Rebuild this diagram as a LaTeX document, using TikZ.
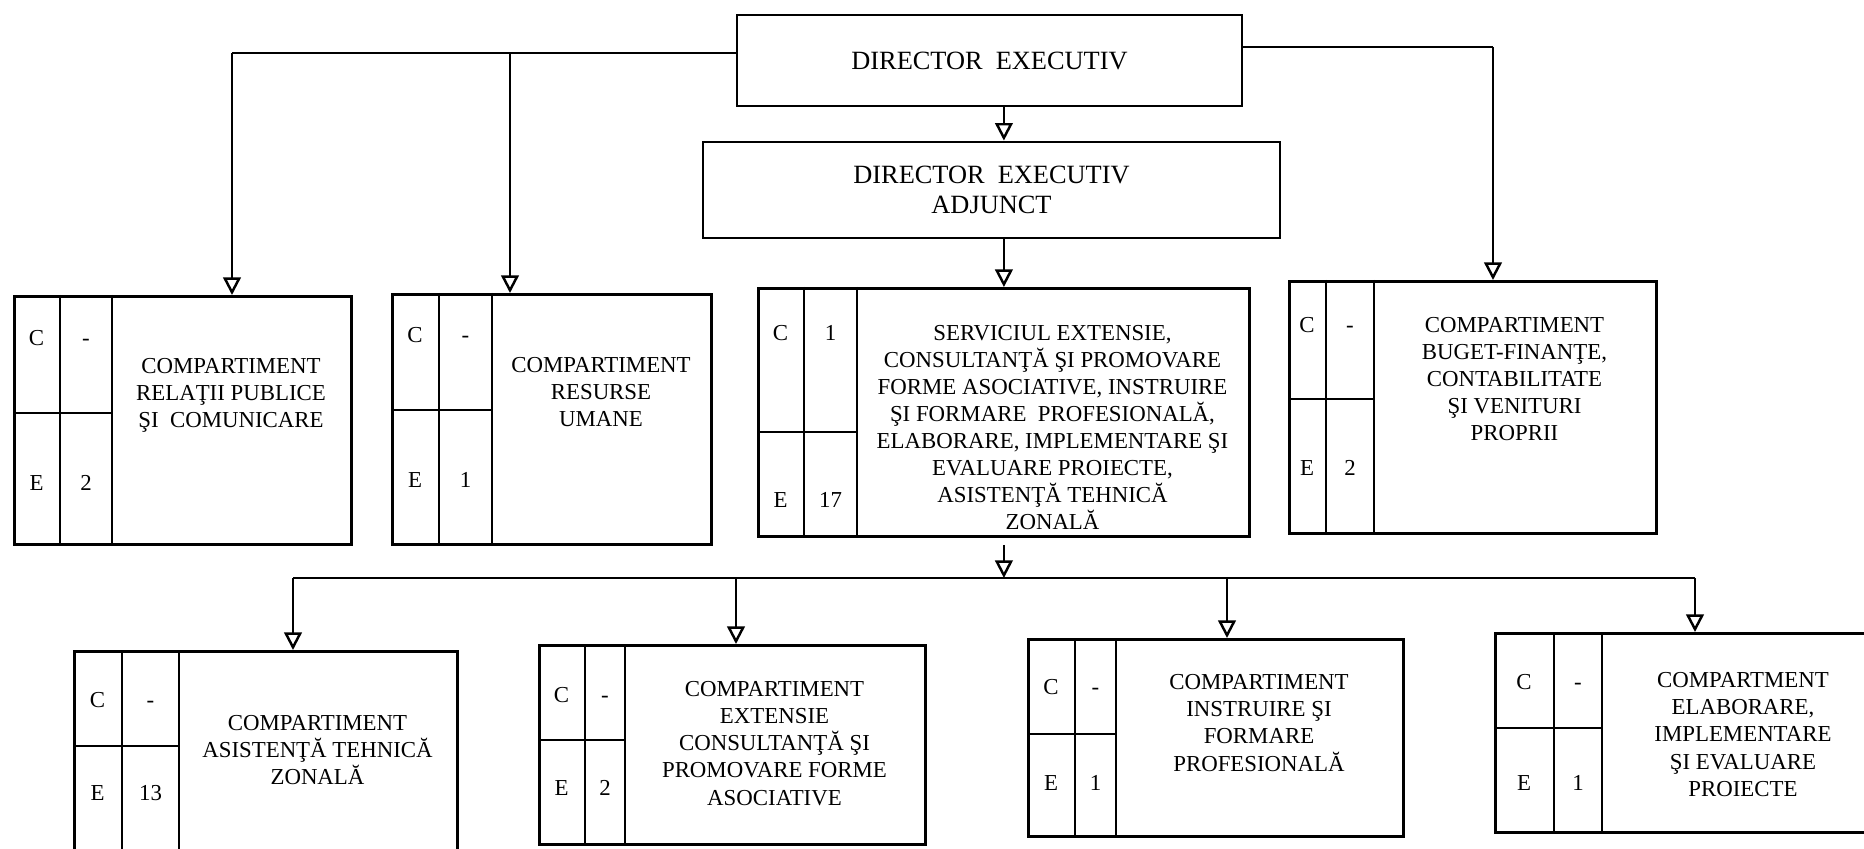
\documentclass[tikz,border=0pt]{standalone}
\usepackage{fontspec}
\setmainfont{Liberation Serif}
\usetikzlibrary{arrows.meta}
\tikzset{
    frame/.style={draw, line width=0.8pt, inner sep=0pt},
    arr/.style={line width=0.7pt, -{Triangle[open, length=5pt, width=5pt]}},
    head/.style={font=\fontsize{7.5}{8.6}\selectfont, align=center},
    txt/.style={font=\fontsize{6.5}{7.7}\selectfont, align=center, inner sep=0pt},
    cell/.style={txt, text height=4.3pt, text depth=0pt},
}

\begin{document}
\begin{tikzpicture}[line width=0.8pt]
    \clip (0, 0) rectangle (18.64, -8.49);
    % conducere
    \node[frame, head, minimum width=5.05cm, minimum height=0.91cm] (de) at (9.895, -0.605) {DIRECTOR\ \ EXECUTIV};
    \node[frame, head, minimum width=5.77cm, minimum height=0.96cm] (dea) at (9.915, -1.90) {DIRECTOR\ \ EXECUTIV\\ADJUNCT};
    % compartiment relatii publice
    \node[frame, anchor=north west, minimum width=3.37cm, minimum height=2.48cm] (rp) at (0.13, -2.95) {};
    \draw (0.60, -2.95) -- (0.60, -5.43);
    \draw (1.12, -2.95) -- (1.12, -5.43);
    \draw (0.13, -4.13) -- (1.12, -4.13);
    \node[cell] (rpc) at (0.365, -3.38) {C};
    \node[cell] (rpcv) at (0.86, -3.38) {-};
    \node[cell] (rpe) at (0.365, -4.83) {E};
    \node[cell] (rpev) at (0.86, -4.83) {2};
    \node[txt] (rpname) at (2.31, -3.95) {COMPARTIMENT\\RELAŢII PUBLICE\\ŞI\ \ COMUNICARE};
    % compartiment resurse umane
    \node[frame, anchor=north west, minimum width=3.19cm, minimum height=2.50cm] (ru) at (3.91, -2.93) {};
    \draw (4.39, -2.93) -- (4.39, -5.43);
    \draw (4.92, -2.93) -- (4.92, -5.43);
    \draw (3.91, -4.10) -- (4.92, -4.10);
    \node[cell] (ruc) at (4.15, -3.35) {C};
    \node[cell] (rucv) at (4.655, -3.35) {-};
    \node[cell] (rue) at (4.15, -4.80) {E};
    \node[cell] (ruev) at (4.655, -4.80) {1};
    \node[txt] (runame) at (6.01, -3.92) {COMPARTIMENT\\RESURSE\\UMANE};
    % serviciul
    \node[frame, anchor=north west, minimum width=4.91cm, minimum height=2.48cm] (sv) at (7.57, -2.87) {};
    \draw (8.04, -2.87) -- (8.04, -5.35);
    \draw (8.57, -2.87) -- (8.57, -5.35);
    \draw (7.57, -4.32) -- (8.57, -4.32);
    \node[cell] (svc) at (7.805, -3.33) {C};
    \node[cell] (svcv) at (8.305, -3.33) {1};
    \node[cell] (sve) at (7.805, -5.00) {E};
    \node[cell] (svev) at (8.305, -5.00) {17};
    \node[txt] (svname) at (10.525, -4.275) {SERVICIUL EXTENSIE,\\CONSULTANŢĂ ŞI PROMOVARE\\FORME ASOCIATIVE, INSTRUIRE\\ŞI FORMARE\ \ PROFESIONALĂ,\\ELABORARE, IMPLEMENTARE ŞI\\EVALUARE PROIECTE,\\ASISTENŢĂ TEHNICĂ\\ZONALĂ};
    % compartiment buget
    \node[frame, anchor=north west, minimum width=3.67cm, minimum height=2.52cm] (bf) at (12.88, -2.80) {};
    \draw (13.26, -2.80) -- (13.26, -5.32);
    \draw (13.74, -2.80) -- (13.74, -5.32);
    \draw (12.88, -3.99) -- (13.74, -3.99);
    \node[cell] (bfc) at (13.07, -3.25) {C};
    \node[cell] (bfcv) at (13.50, -3.25) {-};
    \node[cell] (bfe) at (13.07, -4.68) {E};
    \node[cell] (bfev) at (13.50, -4.68) {2};
    \node[txt] (bfname) at (15.145, -3.79) {COMPARTIMENT\\BUGET-FINANŢE,\\CONTABILITATE\\ŞI VENITURI\\PROPRII};
    % compartiment asistenta tehnica
    \node[frame, anchor=north west, minimum width=3.83cm, minimum height=2.40cm] (atz) at (0.73, -6.50) {};
    \draw (1.22, -6.50) -- (1.22, -8.90);
    \draw (1.79, -6.50) -- (1.79, -8.90);
    \draw (0.73, -7.46) -- (1.79, -7.46);
    \node[cell] (atzc) at (0.975, -7.00) {C};
    \node[cell] (atzcv) at (1.505, -7.00) {-};
    \node[cell] (atze) at (0.975, -7.93) {E};
    \node[cell] (atzev) at (1.505, -7.93) {13};
    \node[txt] (atzname) at (3.175, -7.50) {COMPARTIMENT\\ASISTENŢĂ TEHNICĂ\\ZONALĂ};
    % compartiment extensie
    \node[frame, anchor=north west, minimum width=3.86cm, minimum height=1.99cm] (ex) at (5.38, -6.44) {};
    \draw (5.85, -6.44) -- (5.85, -8.43);
    \draw (6.25, -6.44) -- (6.25, -8.43);
    \draw (5.38, -7.40) -- (6.25, -7.40);
    \node[cell] (exc) at (5.615, -6.95) {C};
    \node[cell] (excv) at (6.05, -6.95) {-};
    \node[cell] (exe) at (5.615, -7.88) {E};
    \node[cell] (exev) at (6.05, -7.88) {2};
    \node[txt] (exname) at (7.745, -7.435) {COMPARTIMENT\\EXTENSIE\\CONSULTANŢĂ ŞI\\PROMOVARE FORME\\ASOCIATIVE};
    % compartiment instruire
    \node[frame, anchor=north west, minimum width=3.75cm, minimum height=1.97cm] (ip) at (10.27, -6.38) {};
    \draw (10.75, -6.38) -- (10.75, -8.35);
    \draw (11.16, -6.38) -- (11.16, -8.35);
    \draw (10.27, -7.34) -- (11.16, -7.34);
    \node[cell] (ipc) at (10.51, -6.87) {C};
    \node[cell] (ipcv) at (10.955, -6.87) {-};
    \node[cell] (ipe) at (10.51, -7.83) {E};
    \node[cell] (ipev) at (10.955, -7.83) {1};
    \node[txt] (ipname) at (12.59, -7.23) {COMPARTIMENT\\INSTRUIRE ŞI\\FORMARE\\PROFESIONALĂ};
    % compartiment elaborare
    \node[frame, anchor=north west, minimum width=3.91cm, minimum height=1.99cm] (el) at (14.94, -6.32) {};
    \draw (15.54, -6.32) -- (15.54, -8.31);
    \draw (16.02, -6.32) -- (16.02, -8.31);
    \draw (14.94, -7.28) -- (16.02, -7.28);
    \node[cell] (elc) at (15.24, -6.82) {C};
    \node[cell] (elcv) at (15.78, -6.82) {-};
    \node[cell] (ele) at (15.24, -7.83) {E};
    \node[cell] (elev) at (15.78, -7.83) {1};
    \node[txt] (elname) at (17.43, -7.345) {COMPARTMENT\\ELABORARE,\\IMPLEMENTARE\\ŞI EVALUARE\\PROIECTE};
    % legaturi de sus
    \coordinate (l1) at (2.32, -0.53);
    \coordinate (l2) at (5.10, -0.53);
    \coordinate (r1) at (14.93, -0.47);
    \draw (de.west |- l1) -- (l1);
    \draw[arr] (l1) -- (l1 |- rp.north);
    \draw[arr] (l2) -- (l2 |- ru.north);
    \draw (de.east |- r1) -- (r1);
    \draw[arr] (r1) -- (r1 |- bf.north);
    \draw[arr] (sv.north |- de.south) -- (sv.north |- dea.north);
    \draw[arr] (sv.north |- dea.south) -- (sv.north);
    % legaturi de jos
    \coordinate (b1) at (2.93, -5.78);
    \coordinate (b2) at (7.36, -5.78);
    \coordinate (b3) at (12.27, -5.78);
    \coordinate (b4) at (16.95, -5.78);
    \draw (b1) -- (b4);
    \draw[arr] ([yshift=-0.07cm]sv.south) -- (sv.south |- b1);
    \draw[arr] (b1) -- (b1 |- atz.north);
    \draw[arr] (b2) -- (b2 |- ex.north);
    \draw[arr] (b3) -- (b3 |- ip.north);
    \draw[arr] (b4) -- (b4 |- el.north);
\end{tikzpicture}
\end{document}
